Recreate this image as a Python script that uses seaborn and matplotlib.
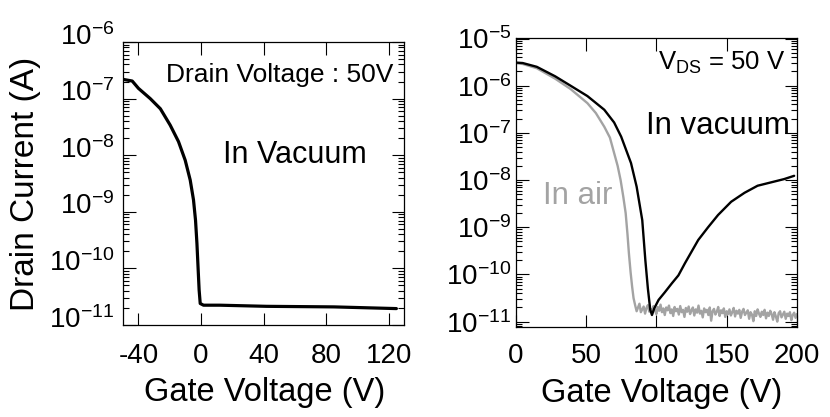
import numpy as np
import pandas as pd
import matplotlib
matplotlib.use("Agg")
import matplotlib.pyplot as plt
import matplotlib.transforms as mtransforms
from matplotlib.ticker import LogLocator, LogFormatterSciNotation, NullFormatter
import seaborn as sns

OUT_PATH = "out.png"

# left panel: transfer curve in vacuum, V_DS = 50 V (log10 of drain current)
left_vg = [-50, -44, -40, -32.5, -26, -19.7, -14.4, -10.1, -6.9, -4.8, -3.5,
           -2.6, -1.8, -1.2, -0.5, 1.6, 12, 42, 85, 125]
left_log_id = [-6.66, -6.69, -6.82, -7.00, -7.18, -7.47, -7.76, -8.09, -8.44,
               -8.79, -9.15, -9.56, -10.03, -10.38, -10.62, -10.65, -10.65,
               -10.67, -10.68, -10.71]

# right panel: in vacuum (black)
vac_vg = [0, 5, 15, 28, 39, 51, 63, 70, 75, 82, 86, 90, 92.2, 94, 95.7, 96.9,
          98.5, 101.6, 106, 111, 115.7, 120.4, 125, 129.8, 136.8, 143.9,
          153.2, 162.7, 172, 181.4, 190.8, 198]
vac_log_id = [-5.51, -5.52, -5.60, -5.80, -6.00, -6.22, -6.51, -6.78, -7.08,
              -7.64, -8.14, -8.85, -9.70, -10.30, -10.75, -10.86, -10.72,
              -10.54, -10.38, -10.19, -10.02, -9.76, -9.52, -9.27, -9.00,
              -8.74, -8.46, -8.27, -8.12, -8.05, -7.98, -7.91]

# right panel: in air (gray), switching part
air_vg = [0, 5, 15, 28, 39, 51, 57, 63, 67, 70, 72.5, 74.6, 76.5, 78.2, 79.5,
          80.5, 81.7, 82.8, 83.8]
air_log_id = [-5.52, -5.54, -5.63, -5.85, -6.07, -6.37, -6.58, -6.87, -7.10,
              -7.43, -7.70, -8.00, -8.35, -8.70, -9.15, -9.55, -9.95, -10.26,
              -10.50]

# in air, noisy off-current floor read every 1 V of the sweep (85 ... 200 V)
floor_vg = list(range(85, 201))
floor_log_id = [
    -10.66, -10.78, -10.70, -10.62, -10.80, -10.74, -10.68, -10.83, -10.71, -10.65,
    -10.79, -10.73, -10.81, -10.67, -10.75, -10.84, -10.69, -10.77, -10.64, -10.80,
    -10.72, -10.86, -10.70, -10.76, -10.66, -10.82, -10.74, -10.88, -10.69, -10.78,
    -10.73, -10.85, -10.67, -10.80, -10.75, -10.90, -10.71, -10.79, -10.68, -10.84,
    -10.76, -10.70, -10.87, -10.74, -10.81, -10.66, -10.83, -10.77, -10.91, -10.72,
    -10.80, -10.75, -10.86, -10.70, -10.98, -10.78, -10.73, -10.85, -10.79, -10.69,
    -10.88, -10.76, -10.82, -10.72, -10.90, -10.78, -10.84, -10.74, -10.87, -10.80,
    -10.71, -10.89, -10.77, -10.83, -10.75, -10.92, -10.79, -10.73, -10.86, -10.81,
    -10.76, -10.94, -10.80, -10.85, -10.99, -10.78, -10.88, -10.74, -10.83, -10.90,
    -10.79, -10.86, -10.75, -10.93, -10.81, -10.88, -10.77, -10.84, -10.96, -10.80,
    -10.89, -11.00, -10.82, -10.78, -10.91, -10.85, -10.79, -10.94, -10.83, -10.88,
    -10.80, -10.97, -10.86, -10.81, -10.92, -10.84,
]

LEFT_XTICKS = [-40, 0, 40, 80, 120]
RIGHT_XTICKS = [0, 50, 100, 150, 200]

AIR_GRAY = "#a3a3a3"

sns.set_theme(style="ticks")
plt.rcParams["font.family"] = ["Liberation Sans", "DejaVu Sans"]
plt.rcParams["mathtext.fontset"] = "custom"
plt.rcParams["mathtext.rm"] = "Liberation Sans"
plt.rcParams["mathtext.it"] = "Liberation Sans:italic"
plt.rcParams["axes.unicode_minus"] = False
for key in ["text.color", "axes.labelcolor", "xtick.color", "ytick.color",
            "axes.edgecolor"]:
    plt.rcParams[key] = "black"

left_df = pd.DataFrame({"vg": left_vg, "id": np.power(10.0, left_log_id)})
right_df = pd.concat([
    pd.DataFrame({"vg": air_vg + floor_vg,
                  "id": np.power(10.0, air_log_id + floor_log_id),
                  "cond": "In air"}),
    pd.DataFrame({"vg": vac_vg, "id": np.power(10.0, vac_log_id), "cond": "In vacuum"}),
], ignore_index=True)

fig = plt.figure(figsize=(8.3, 4.17), dpi=100)
ax1 = fig.add_axes([0.148, 0.2206, 0.339, 0.6788])
ax2 = fig.add_axes([0.6213, 0.2165, 0.3389, 0.6931])


def style_axis(ax, xpad, ypad):
    ax.set_yscale("log")
    ax.yaxis.set_major_locator(LogLocator(base=10, numticks=30))
    ax.yaxis.set_minor_locator(LogLocator(base=10, subs=np.arange(2, 10), numticks=30))
    ax.yaxis.set_major_formatter(LogFormatterSciNotation())
    ax.yaxis.set_minor_formatter(NullFormatter())
    ax.xaxis.offsetText.set_visible(False)
    ax.yaxis.offsetText.set_visible(False)
    for sp in ax.spines.values():
        sp.set_visible(True)
        sp.set_linewidth(0.9)
        sp.set_color("black")
    ax.tick_params(which="both", direction="in", top=True, right=True,
                   colors="black", width=0.8)
    ax.tick_params(which="major", length=9, labelsize=20)
    ax.tick_params(which="minor", length=4.5)
    ax.tick_params(axis="x", pad=xpad)
    ax.tick_params(axis="y", pad=ypad)


sns.lineplot(data=left_df, x="vg", y="id", ax=ax1, color="black",
             linewidth=2.3, estimator=None, sort=False)
style_axis(ax1, 13, 6)
ax1.set_xlim(-50, 130)
ax1.set_ylim(1e-11, 1e-6)
ax1.set_xticks(LEFT_XTICKS)
ax1.set_xlabel("Gate Voltage (V)", fontsize=23.5)
ax1.set_ylabel("Drain Current (A)", fontsize=24)
ax1.xaxis.set_label_coords(0.505, -0.182)
ax1.yaxis.set_label_coords(-0.29, 0.5)
ax1.text(0.961, 0.883, "Drain Voltage : 50V", transform=ax1.transAxes,
         ha="right", va="center", fontsize=19)
ax1.text(0.612, 0.60, "In Vacuum", transform=ax1.transAxes,
         ha="center", va="center", fontsize=22)

sns.lineplot(data=right_df, x="vg", y="id", hue="cond", ax=ax2,
             palette={"In air": AIR_GRAY, "In vacuum": "black"},
             linewidth=1.7, estimator=None, sort=False, legend=False)
style_axis(ax2, 11.5, 3)
ax2.set_xlim(0, 200)
ax2.set_ylim(7.8e-12, 1.04e-5)
ax2.set_xticks(RIGHT_XTICKS)
ax2.set_xlabel("Gate Voltage (V)", fontsize=23.5)
ax2.yaxis.label.set_visible(False)
ax2.xaxis.set_label_coords(0.519, -0.178)
ax2.text(0.957, 0.914, r"V$_{\mathregular{DS}}$ = 50 V", transform=ax2.transAxes,
         ha="right", va="center", fontsize=18.5)
ax2.text(0.975, 0.694, "In vacuum", transform=ax2.transAxes,
         ha="right", va="center", fontsize=22.5)
ax2.text(0.098, 0.452, "In air", transform=ax2.transAxes, color=AIR_GRAY,
         ha="left", va="center", fontsize=22.5)

# the left panel's decade labels sit a little above their ticks in the original
shift = mtransforms.ScaledTranslation(0, 6 / 72, fig.dpi_scale_trans)
for lab in ax1.get_yticklabels():
    lab.set_transform(lab.get_transform() + shift)

fig.savefig(OUT_PATH, dpi=100)
